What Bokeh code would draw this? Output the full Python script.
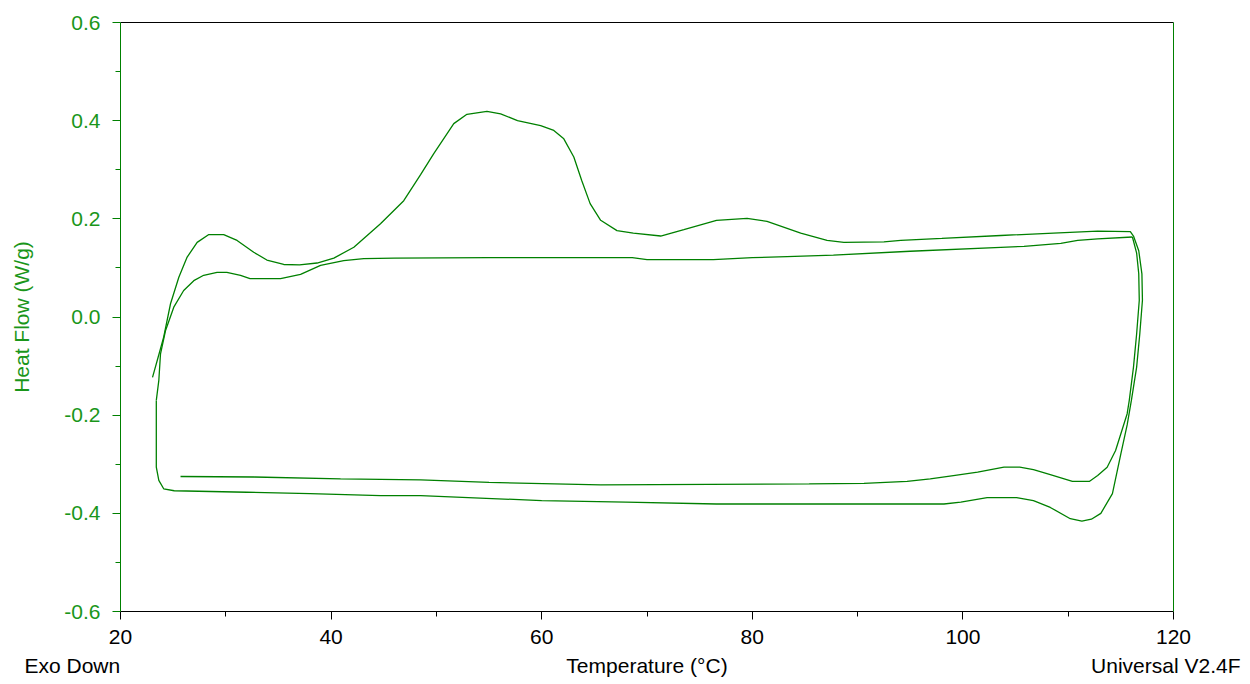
from bokeh.plotting import figure
from bokeh.models import (Range1d, FixedTicker, PrintfTickFormatter, LinearAxis, Title)
from bokeh.embed import file_html
from bokeh.resources import INLINE

# ---- data ----
heat1_T = [23.04, 23.6, 24.1, 24.75, 25.54, 26.33, 27.28, 28.39, 29.8, 31.07, 32.65, 33.9,
           35.5, 37.0, 38.67, 40.26, 42.16, 44.69, 46.9, 48.5, 49.75, 51.65, 52.9, 54.8,
           56.1, 57.7, 59.9, 61.15, 62.1, 63.05, 63.8, 64.6, 65.6, 67.15, 68.7, 71.3,
           73.5, 76.6, 79.5, 81.4, 84.6, 87.1, 88.7, 92.5, 94.1, 98.0, 103.6, 108.6,
           112.8, 115.9, 116.2]
heat1_HF = [-0.123, -0.08, -0.041, 0.027, 0.081, 0.122, 0.152, 0.168, 0.168, 0.156, 0.132, 0.116,
            0.107, 0.106, 0.11, 0.12, 0.142, 0.19, 0.237, 0.29, 0.333, 0.394, 0.413, 0.419,
            0.414, 0.40, 0.39, 0.38, 0.363, 0.326, 0.278, 0.231, 0.197, 0.176, 0.171, 0.165,
            0.178, 0.197, 0.201, 0.195, 0.171, 0.156, 0.152, 0.153, 0.156, 0.16, 0.166, 0.171,
            0.175, 0.174, 0.165]

cool1_T = [116.2, 116.7, 117.0, 117.05, 116.8, 116.5, 116.0, 115.6, 115.0, 114.2, 113.1, 112.2,
           111.3, 110.2, 108.3, 106.7, 105.1, 102.3, 99.8, 98.2, 90.0, 76.6, 68.0, 60.0,
           48.5, 44.7, 38.0, 32.0, 25.1, 24.1, 23.64, 23.4, 23.4]
cool1_HF = [0.165, 0.135, 0.088, 0.034, -0.034, -0.102, -0.17, -0.22, -0.279, -0.36, -0.40, -0.412,
            -0.416, -0.411, -0.388, -0.374, -0.368, -0.368, -0.377, -0.381, -0.381, -0.381, -0.377, -0.374,
            -0.364, -0.364, -0.36, -0.357, -0.354, -0.35, -0.333, -0.306, -0.17]

heat2_T = [23.4, 23.64, 23.8, 24.27, 25.06, 26.0, 26.96, 27.9, 29.17, 30.1, 31.4, 32.3,
           35.2, 37.1, 39.0, 41.2, 43.1, 46.0, 55.0, 68.6, 70.0, 76.3, 80.0, 83.3,
           87.7, 95.0, 103.6, 105.8, 109.3, 110.9, 112.8, 116.1]
heat2_HF = [-0.17, -0.129, -0.075, -0.028, 0.02, 0.054, 0.074, 0.085, 0.091, 0.091, 0.085, 0.078,
            0.078, 0.087, 0.105, 0.115, 0.119, 0.12, 0.121, 0.121, 0.117, 0.117, 0.121, 0.123,
            0.126, 0.134, 0.142, 0.144, 0.150, 0.156, 0.159, 0.163]

cool2_T = [116.1, 116.5, 116.7, 116.75, 116.5, 116.2, 115.8, 115.6, 114.5, 113.7, 112.8, 112.0,
           110.4, 108.3, 106.7, 105.4, 103.9, 101.4, 99.1, 96.9, 94.7, 90.6, 85.4, 65.6,
           55.0, 48.5, 40.9, 32.7, 25.7]
cool2_HF = [0.163, 0.13, 0.088, 0.034, -0.034, -0.102, -0.17, -0.197, -0.272, -0.306, -0.323, -0.335,
            -0.335, -0.321, -0.311, -0.306, -0.306, -0.316, -0.323, -0.33, -0.335, -0.339, -0.340, -0.342,
            -0.337, -0.332, -0.33, -0.326, -0.325]

x_major = [20, 40, 60, 80, 100, 120]
x_minor = [30, 50, 70, 90, 110]
y_major = [-0.6, -0.4, -0.2, 0.0, 0.2, 0.4, 0.6]
y_minor = [-0.5, -0.3, -0.1, 0.1, 0.3, 0.5]

GREEN = "#008000"
TXT_GREEN = "#1a961a"
FONT = "Liberation Sans"
FS = "21px"

p = figure(width=1242, height=680, output_backend="svg", toolbar_location=None,
           x_range=Range1d(20, 120), y_range=Range1d(-0.6, 0.6),
           min_border_left=120, min_border_right=69, min_border_top=22, min_border_bottom=69,
           y_axis_label="Heat Flow (W/g)")
p.outline_line_color = None
p.grid.visible = False
p.background_fill_color = "white"
p.border_fill_color = "white"

for xs, ys in [(heat1_T, heat1_HF), (cool1_T, cool1_HF), (heat2_T, heat2_HF), (cool2_T, cool2_HF)]:
    p.line(xs, ys, line_color=GREEN, line_width=1.3)

# x axis
xa = p.xaxis[0]
xa.ticker = FixedTicker(ticks=x_major, minor_ticks=x_minor)
xa.formatter = PrintfTickFormatter(format="%d")
xa.axis_line_color = "black"
xa.major_tick_line_color = "black"
xa.minor_tick_line_color = "black"
xa.major_tick_out = 8
xa.major_tick_in = 0
xa.minor_tick_out = 5
xa.minor_tick_in = 0
xa.major_label_standoff = 10
xa.major_label_text_font = FONT
xa.major_label_text_font_size = FS
xa.major_label_text_color = "black"

# y axis
ya = p.yaxis[0]
ya.ticker = FixedTicker(ticks=y_major, minor_ticks=y_minor)
ya.formatter = PrintfTickFormatter(format="%.1f")
ya.axis_line_color = GREEN
ya.major_tick_line_color = GREEN
ya.minor_tick_line_color = GREEN
ya.major_tick_out = 8
ya.major_tick_in = 0
ya.minor_tick_out = 5
ya.minor_tick_in = 0
ya.major_label_standoff = 12
ya.major_label_text_font = FONT
ya.major_label_text_font_size = FS
ya.major_label_text_color = TXT_GREEN
ya.axis_label_text_font = FONT
ya.axis_label_text_font_size = FS
ya.axis_label_text_font_style = "normal"
ya.axis_label_text_color = TXT_GREEN
ya.axis_label_standoff = 28

# frame sides
right = LinearAxis(ticker=FixedTicker(ticks=[]), axis_line_color=GREEN,
                   major_label_text_font_size="0px")
top = LinearAxis(ticker=FixedTicker(ticks=[]), axis_line_color="black",
                 major_label_text_font_size="0px")
p.add_layout(right, "right")
p.add_layout(top, "above")

# bottom line of texts (titles in the below panel, all on one line)
spacer = Title(text=" ", standoff=-6, text_font=FONT, text_font_size=FS,
               text_font_style="normal", text_color="white")
t_temp = Title(text="Temperature (°C)", align="center", vertical_align="middle", standoff=-40,
               text_font=FONT, text_font_size=FS, text_font_style="normal", text_color="black")
t_exo = Title(text="Exo Down", align="left", vertical_align="middle", standoff=-40, offset=-96,
              text_font=FONT, text_font_size=FS, text_font_style="normal", text_color="black")
t_uni = Title(text="Universal V2.4F", align="right", vertical_align="middle", standoff=-40, offset=-67,
              text_font=FONT, text_font_size=FS, text_font_style="normal", text_color="black")
p.add_layout(spacer, "below")
p.add_layout(t_temp, "below")
p.add_layout(t_exo, "below")
p.add_layout(t_uni, "below")

open("out.html", "w").write(file_html(p, INLINE))
